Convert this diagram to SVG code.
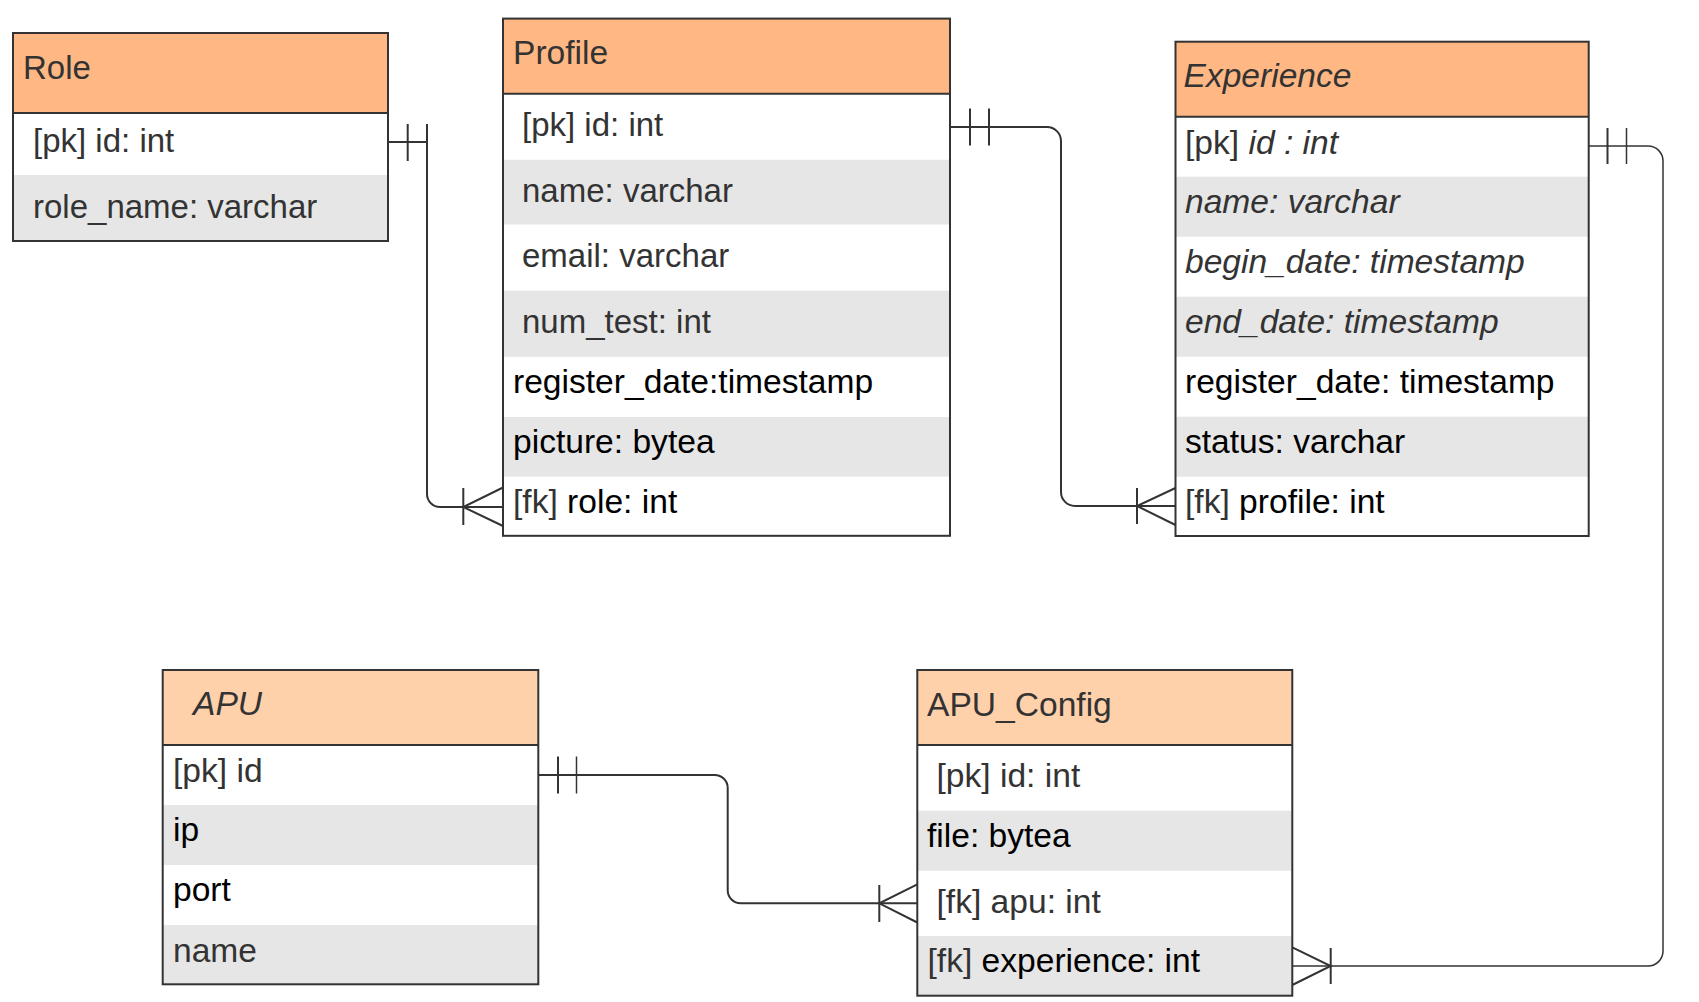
<svg xmlns="http://www.w3.org/2000/svg" width="1699" height="1002" viewBox="0 0 1699 1002">
<style>
  text { font-family: "Liberation Sans", Arial, sans-serif; font-size: 33.6px; fill: #333333; }
  .sm { font-size: 33px; }
  .blk { fill: #000000; }
  .it { font-style: italic; }
  .hdr { fill: #FFB784; }
  .hdr2 { fill: #FFD1AB; }
  .bg { fill: #FFFFFF; }
  .gray { fill: #E6E6E6; }
  .border { fill: none; stroke: #333333; stroke-width: 2; }
  .conn { fill: none; stroke: #333333; stroke-width: 2; }
  .thin { fill: none; stroke: #333333; stroke-width: 1.5; }
</style>
<rect x="0" y="0" width="1699" height="1002" fill="#FFFFFF"/>

<g id="role">
  <rect class="bg" x="13" y="33" width="375" height="208"/>
  <rect class="hdr" x="13" y="33" width="375" height="80"/>
  <rect class="gray" x="13" y="175" width="375" height="66"/>
  <rect class="border" x="13" y="33" width="375" height="208"/>
  <line class="border" x1="13" y1="113" x2="388" y2="113"/>
  <text class="sm" x="23" y="79">Role</text>
  <text class="sm" x="33" y="152">[pk] id: int</text>
  <text class="sm" x="33" y="218">role_name: varchar</text>
</g>

<g id="profile">
  <rect class="bg" x="503" y="18.6" width="447" height="517.2"/>
  <rect class="hdr" x="503" y="18.6" width="447" height="75.1"/>
  <rect class="gray" x="503" y="159.8" width="447" height="64.7"/>
  <rect class="gray" x="503" y="290.6" width="447" height="66.2"/>
  <rect class="gray" x="503" y="417" width="447" height="59.6"/>
  <rect class="border" x="503" y="18.6" width="447" height="517.2"/>
  <line class="border" x1="503" y1="93.7" x2="950" y2="93.7"/>
  <text x="513" y="64">Profile</text>
  <text class="sm" x="522" y="136">[pk] id: int</text>
  <text class="sm" x="522" y="201.5">name: varchar</text>
  <text class="sm" x="522" y="267">email: varchar</text>
  <text class="sm" x="522" y="333">num_test: int</text>
  <text class="blk" x="513" y="392.5">register_date:timestamp</text>
  <text class="blk" x="513" y="452.5">picture: bytea</text>
  <text x="513" y="513">[fk] <tspan class="blk">role: int</tspan></text>
</g>

<g id="experience">
  <rect class="bg" x="1175.5" y="41.7" width="413.2" height="494.3"/>
  <rect class="hdr" x="1175.5" y="41.7" width="413.2" height="75"/>
  <rect class="gray" x="1175.5" y="176.7" width="413.2" height="60"/>
  <rect class="gray" x="1175.5" y="296.7" width="413.2" height="60"/>
  <rect class="gray" x="1175.5" y="416.7" width="413.2" height="60"/>
  <rect class="border" x="1175.5" y="41.7" width="413.2" height="494.3"/>
  <line class="border" x1="1175.5" y1="116.7" x2="1588.7" y2="116.7"/>
  <text class="it" x="1183.5" y="87">Experience</text>
  <text x="1185" y="153.5">[pk] <tspan class="it">id : int</tspan></text>
  <text class="it" x="1185" y="213">name: varchar</text>
  <text class="it" x="1185" y="273">begin_date: timestamp</text>
  <text class="it" x="1185" y="333">end_date: timestamp</text>
  <text class="blk" x="1185" y="393">register_date: timestamp</text>
  <text class="blk" x="1185" y="453">status: varchar</text>
  <text x="1185" y="513">[fk] <tspan class="blk">profile: int</tspan></text>
</g>

<g id="apu">
  <rect class="bg" x="162.7" y="670" width="375.6" height="314.3"/>
  <rect class="hdr2" x="162.7" y="670" width="375.6" height="75"/>
  <rect class="gray" x="162.7" y="805" width="375.6" height="60"/>
  <rect class="gray" x="162.7" y="925" width="375.6" height="59.3"/>
  <rect class="border" x="162.7" y="670" width="375.6" height="314.3"/>
  <line class="border" x1="162.7" y1="745" x2="538.3" y2="745"/>
  <text class="it" x="193" y="715">APU</text>
  <text x="173" y="782">[pk] id</text>
  <text class="blk" x="173" y="841">ip</text>
  <text class="blk" x="173" y="901">port</text>
  <text x="173" y="962">name</text>
</g>

<g id="apu_config">
  <rect class="bg" x="917.3" y="670" width="375" height="325.7"/>
  <rect class="hdr2" x="917.3" y="670" width="375" height="75"/>
  <rect class="gray" x="917.3" y="810.7" width="375" height="60"/>
  <rect class="gray" x="917.3" y="936" width="375" height="59.7"/>
  <rect class="border" x="917.3" y="670" width="375" height="325.7"/>
  <line class="border" x1="917.3" y1="745" x2="1292.3" y2="745"/>
  <text x="927" y="715.5">APU_Config</text>
  <text x="936.5" y="787">[pk] id: int</text>
  <text class="blk" x="927" y="847">file: bytea</text>
  <text x="936.5" y="913">[fk] apu: int</text>
  <text x="927.5" y="972">[fk] <tspan class="blk">experience: int</tspan></text>
</g>

<g id="connectors">
  <!-- Role - Profile -->
  <path class="conn" d="M388 142 H427 V494 A13 13 0 0 0 440 507 H503"/>
  <line class="conn" x1="407.7" y1="124" x2="407.7" y2="161"/>
  <line class="conn" x1="427" y1="124" x2="427" y2="142"/>
  <line class="conn" x1="463.3" y1="488" x2="463.3" y2="525"/>
  <path class="conn" d="M503 487.5 L463.3 507 L503 526"/>

  <!-- Profile - Experience -->
  <path class="conn" d="M950 127 H1047 A14 14 0 0 1 1061 141 V492 A14 14 0 0 0 1075 506 H1175.5"/>
  <line class="conn" x1="970" y1="108.5" x2="970" y2="145.5"/>
  <line class="conn" x1="989" y1="108.5" x2="989" y2="145.5"/>
  <line class="conn" x1="1137" y1="488" x2="1137" y2="524"/>
  <path class="conn" d="M1175.5 488 L1137 506 L1175.5 525"/>

  <!-- Experience - APU_Config -->
  <path class="thin" d="M1588.7 146 H1648 A15 15 0 0 1 1663 161 V951 A15 15 0 0 1 1648 966 H1292.3"/>
  <line class="conn" x1="1607.5" y1="128" x2="1607.5" y2="164"/>
  <line class="thin" x1="1626.5" y1="128" x2="1626.5" y2="164"/>
  <line class="conn" x1="1330.7" y1="948" x2="1330.7" y2="984"/>
  <path class="conn" d="M1292.3 947.3 L1330.7 966 L1292.3 985"/>

  <!-- APU - APU_Config -->
  <path class="conn" d="M538.3 775 H714.7 A13 13 0 0 1 727.7 788 V890.3 A13 13 0 0 0 740.7 903.3 H917.3"/>
  <line class="conn" x1="558" y1="756.5" x2="558" y2="793.5"/>
  <line class="thin" x1="576.5" y1="756.5" x2="576.5" y2="793.5"/>
  <line class="conn" x1="879.3" y1="885" x2="879.3" y2="922"/>
  <path class="conn" d="M917.3 884.3 L879.3 903.3 L917.3 922.5"/>
</g>
</svg>
